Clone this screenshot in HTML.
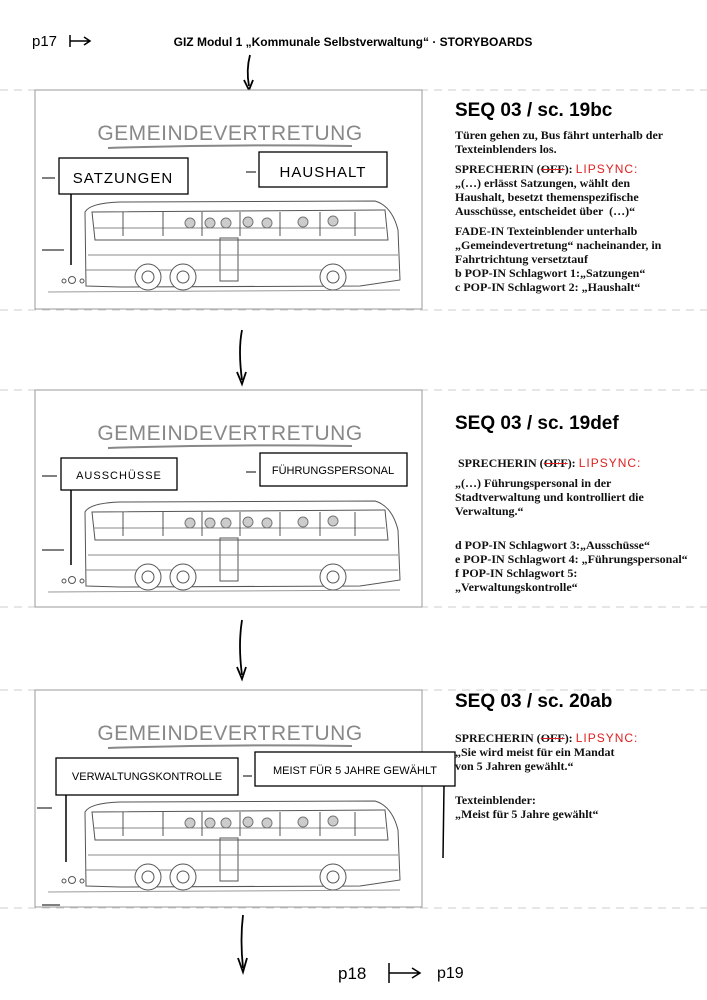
<!DOCTYPE html>
<html><head><meta charset="utf-8"><style>
html,body{margin:0;padding:0;background:#fff;}
body{width:707px;height:1000px;position:relative;overflow:hidden;font-family:"Liberation Serif",serif;}
.t{position:absolute;left:455px;font-weight:bold;font-size:12px;line-height:14px;color:#111;width:214px;}
.h{position:absolute;left:455px;font-family:"Liberation Sans",sans-serif;font-weight:bold;font-size:19px;color:#000;}
.red{color:#e02020;font-family:"Liberation Sans",sans-serif;font-weight:normal;letter-spacing:1px;}
.s{text-decoration:line-through;text-decoration-color:#e02020;}
p{margin:0 0 6px 0;}
</style></head><body>
<svg width="707" height="1000" style="position:absolute;left:0;top:0">
<defs>
<g id="bus" stroke="#555" fill="none" stroke-width="1">
  <path d="M85 212 Q90 203 120 202 L375 201 Q392 206 398 230 L400 280 L360 286 L120 287 L86 286 Z"/>
  <path d="M92 212 L385 210 L388 240 L95 240 Z"/>
  <line x1="93" y1="228" x2="385" y2="228" stroke="#888"/>
  <line x1="123" y1="212" x2="123" y2="236"/><line x1="163" y1="212" x2="163" y2="236"/>
  <line x1="202" y1="212" x2="202" y2="236"/><line x1="240" y1="212" x2="240" y2="236"/>
  <line x1="280" y1="212" x2="280" y2="236"/><line x1="320" y1="212" x2="320" y2="236"/>
  <line x1="355" y1="212" x2="355" y2="236"/>
  <rect x="220" y="238" width="18" height="43"/>
  <line x1="88" y1="255" x2="398" y2="255" stroke="#888"/>
  <line x1="85" y1="270" x2="398" y2="270" stroke="#888"/>
  <circle cx="148" cy="277" r="13" fill="#fff"/><circle cx="148" cy="277" r="6"/>
  <circle cx="183" cy="277" r="13" fill="#fff"/><circle cx="183" cy="277" r="6"/>
  <circle cx="333" cy="277" r="13" fill="#fff"/><circle cx="333" cy="277" r="6"/>
  <path d="M48 292 L400 290" stroke="#999"/>
  <circle cx="64" cy="281" r="2"/><circle cx="72" cy="280" r="3.5"/><circle cx="82" cy="281" r="2"/>
  <g fill="#ccc" stroke="#777"><circle cx="190" cy="223" r="5"/><circle cx="210" cy="223" r="5"/><circle cx="226" cy="223" r="5"/><circle cx="248" cy="222" r="5"/><circle cx="267" cy="223" r="5"/><circle cx="303" cy="222" r="5"/><circle cx="333" cy="221" r="5"/></g>
</g>
<g id="dash" stroke="#ccc" stroke-dasharray="8,6" stroke-width="1"><line x1="0" y1="0" x2="707" y2="0"/></g>
</defs>
<text x="32" y="46" font-family="Liberation Sans" font-size="15">p17</text>
<path d="M70 35 V47 M70 41 H90 M84 37 L90 41 L84 45" stroke="#000" fill="none" stroke-width="1.5"/>
<text x="353" y="46" text-anchor="middle" font-family="Liberation Sans" font-weight="bold" font-size="12">GIZ Modul 1 „Kommunale Selbstverwaltung“ · STORYBOARDS</text>
<path d="M250 55 Q246 70 249 86" stroke="#000" fill="none" stroke-width="1.8"/><path d="M244 80 L249 90 L253 80" stroke="#000" fill="none" stroke-width="1.8"/>
<use href="#dash" y="90"/><use href="#dash" y="310"/><use href="#dash" y="390"/><use href="#dash" y="607"/><use href="#dash" y="690"/><use href="#dash" y="908"/>
<path d="M242 330 Q238 350 242 380" stroke="#000" fill="none" stroke-width="1.8"/><path d="M237 372 L242 384 L246 372" stroke="#000" fill="none" stroke-width="1.8"/>
<path d="M242 620 Q238 645 242 675" stroke="#000" fill="none" stroke-width="1.8"/><path d="M237 667 L242 679 L246 667" stroke="#000" fill="none" stroke-width="1.8"/>
<path d="M243 915 Q240 940 243 968" stroke="#000" fill="none" stroke-width="1.8"/><path d="M238 958 L243 972 L247 958" stroke="#000" fill="none" stroke-width="1.8"/>
<text x="338" y="979" font-family="Liberation Sans" font-size="17">p18</text>
<path d="M389 963 V983 M389 973 H420 M412 968 L420 973 L412 978" stroke="#000" fill="none" stroke-width="1.5"/>
<text x="437" y="978" font-family="Liberation Sans" font-size="16">p19</text>

<rect x="35" y="90" width="387" height="219" fill="#fff" stroke="#999"/>
<text x="230" y="140" text-anchor="middle" font-family="Liberation Sans" font-size="21" fill="#888" letter-spacing="0.5">GEMEINDEVERTRETUNG</text>
<path d="M108 148 Q230 144 352 146" stroke="#888" stroke-width="2" fill="none"/>
<rect x="59" y="158" width="129" height="36" fill="#fff" stroke="#000" stroke-width="1.3"/>
<text x="123" y="183" text-anchor="middle" font-family="Liberation Sans" font-size="15" letter-spacing="1">SATZUNGEN</text>
<rect x="259" y="152" width="128" height="35" fill="#fff" stroke="#000" stroke-width="1.3"/>
<text x="323" y="177" text-anchor="middle" font-family="Liberation Sans" font-size="15" letter-spacing="1">HAUSHALT</text>
<line x1="71" y1="194" x2="71" y2="265" stroke="#000" stroke-width="1.5"/>
<path d="M42 178 H55 M42 250 H64 M246 172 H256" stroke="#000"/>
<use href="#bus"/>

<rect x="35" y="390" width="387" height="217" fill="#fff" stroke="#999"/>
<text x="230" y="440" text-anchor="middle" font-family="Liberation Sans" font-size="21" fill="#888" letter-spacing="0.5">GEMEINDEVERTRETUNG</text>
<path d="M108 448 Q230 444 352 446" stroke="#888" stroke-width="2" fill="none"/>
<rect x="61" y="458" width="116" height="32" fill="#fff" stroke="#000" stroke-width="1.3"/>
<text x="119" y="479" text-anchor="middle" font-family="Liberation Sans" font-size="11" letter-spacing="1">AUSSCHÜSSE</text>
<rect x="260" y="453" width="147" height="33" fill="#fff" stroke="#000" stroke-width="1.3"/>
<text x="333" y="474" text-anchor="middle" font-family="Liberation Sans" font-size="11">FÜHRUNGSPERSONAL</text>
<line x1="71" y1="490" x2="71" y2="565" stroke="#000" stroke-width="1.5"/>
<path d="M42 476 H57 M42 550 H64 M246 472 H256" stroke="#000"/>
<use href="#bus" y="300"/>

<rect x="35" y="690" width="387" height="217" fill="#fff" stroke="#999"/>
<text x="230" y="740" text-anchor="middle" font-family="Liberation Sans" font-size="21" fill="#888" letter-spacing="0.5">GEMEINDEVERTRETUNG</text>
<path d="M108 748 Q230 744 352 746" stroke="#888" stroke-width="2" fill="none"/>
<rect x="56" y="758" width="182" height="37" fill="#fff" stroke="#000" stroke-width="1.3"/>
<text x="147" y="780" text-anchor="middle" font-family="Liberation Sans" font-size="11">VERWALTUNGSKONTROLLE</text>
<rect x="255" y="752" width="200" height="34" fill="#fff" stroke="#000" stroke-width="1.3"/>
<text x="355" y="774" text-anchor="middle" font-family="Liberation Sans" font-size="11">MEIST FÜR 5 JAHRE GEWÄHLT</text>
<line x1="66" y1="795" x2="66" y2="862" stroke="#000" stroke-width="1.5"/>
<line x1="444" y1="786" x2="443" y2="858" stroke="#000" stroke-width="1.5"/>
<path d="M37 808 H52 M42 905 H60 M243 776 H252" stroke="#000"/>
<use href="#bus" y="600"/>
</svg>

<div class="h" style="top:100px">SEQ 03 / sc. 19bc</div>
<div class="t" style="top:128px">
<p>Türen gehen zu, Bus fährt unterhalb der Texteinblenders los.</p>
<p>SPRECHERIN (<span class="s">OFF</span>): <span class="red">LIPSYNC:</span><br>„(…) erlässt Satzungen, wählt den<br>Haushalt, besetzt themenspezifische<br>Ausschüsse, entscheidet über &nbsp;(…)“</p>
<p>FADE-IN Texteinblender unterhalb „Gemeindevertretung“ nacheinander, in Fahrtrichtung versetztauf<br>b POP-IN Schlagwort 1:„Satzungen“<br>c POP-IN Schlagwort 2: „Haushalt“</p>
</div>

<div class="h" style="top:413px">SEQ 03 / sc. 19def</div>
<div class="t" style="top:456px;width:252px;white-space:nowrap">
<p>&nbsp;SPRECHERIN (<span class="s">OFF</span>): <span class="red">LIPSYNC:</span></p>
<p>„(…) Führungspersonal in der<br>Stadtverwaltung und kontrolliert die<br>Verwaltung.“</p>
<p><br>d POP-IN Schlagwort 3:„Ausschüsse“<br>e POP-IN Schlagwort 4: „Führungspersonal“<br>f POP-IN Schlagwort 5:<br>„Verwaltungskontrolle“</p>
</div>

<div class="h" style="top:691px">SEQ 03 / sc. 20ab</div>
<div class="t" style="top:731px">
<p>SPRECHERIN (<span class="s">OFF</span>): <span class="red">LIPSYNC:</span><br>„Sie wird meist für ein Mandat<br>von 5 Jahren gewählt.“</p>
<p><br>Texteinblender:<br>„Meist für 5 Jahre gewählt“</p>
</div>
</body></html>
